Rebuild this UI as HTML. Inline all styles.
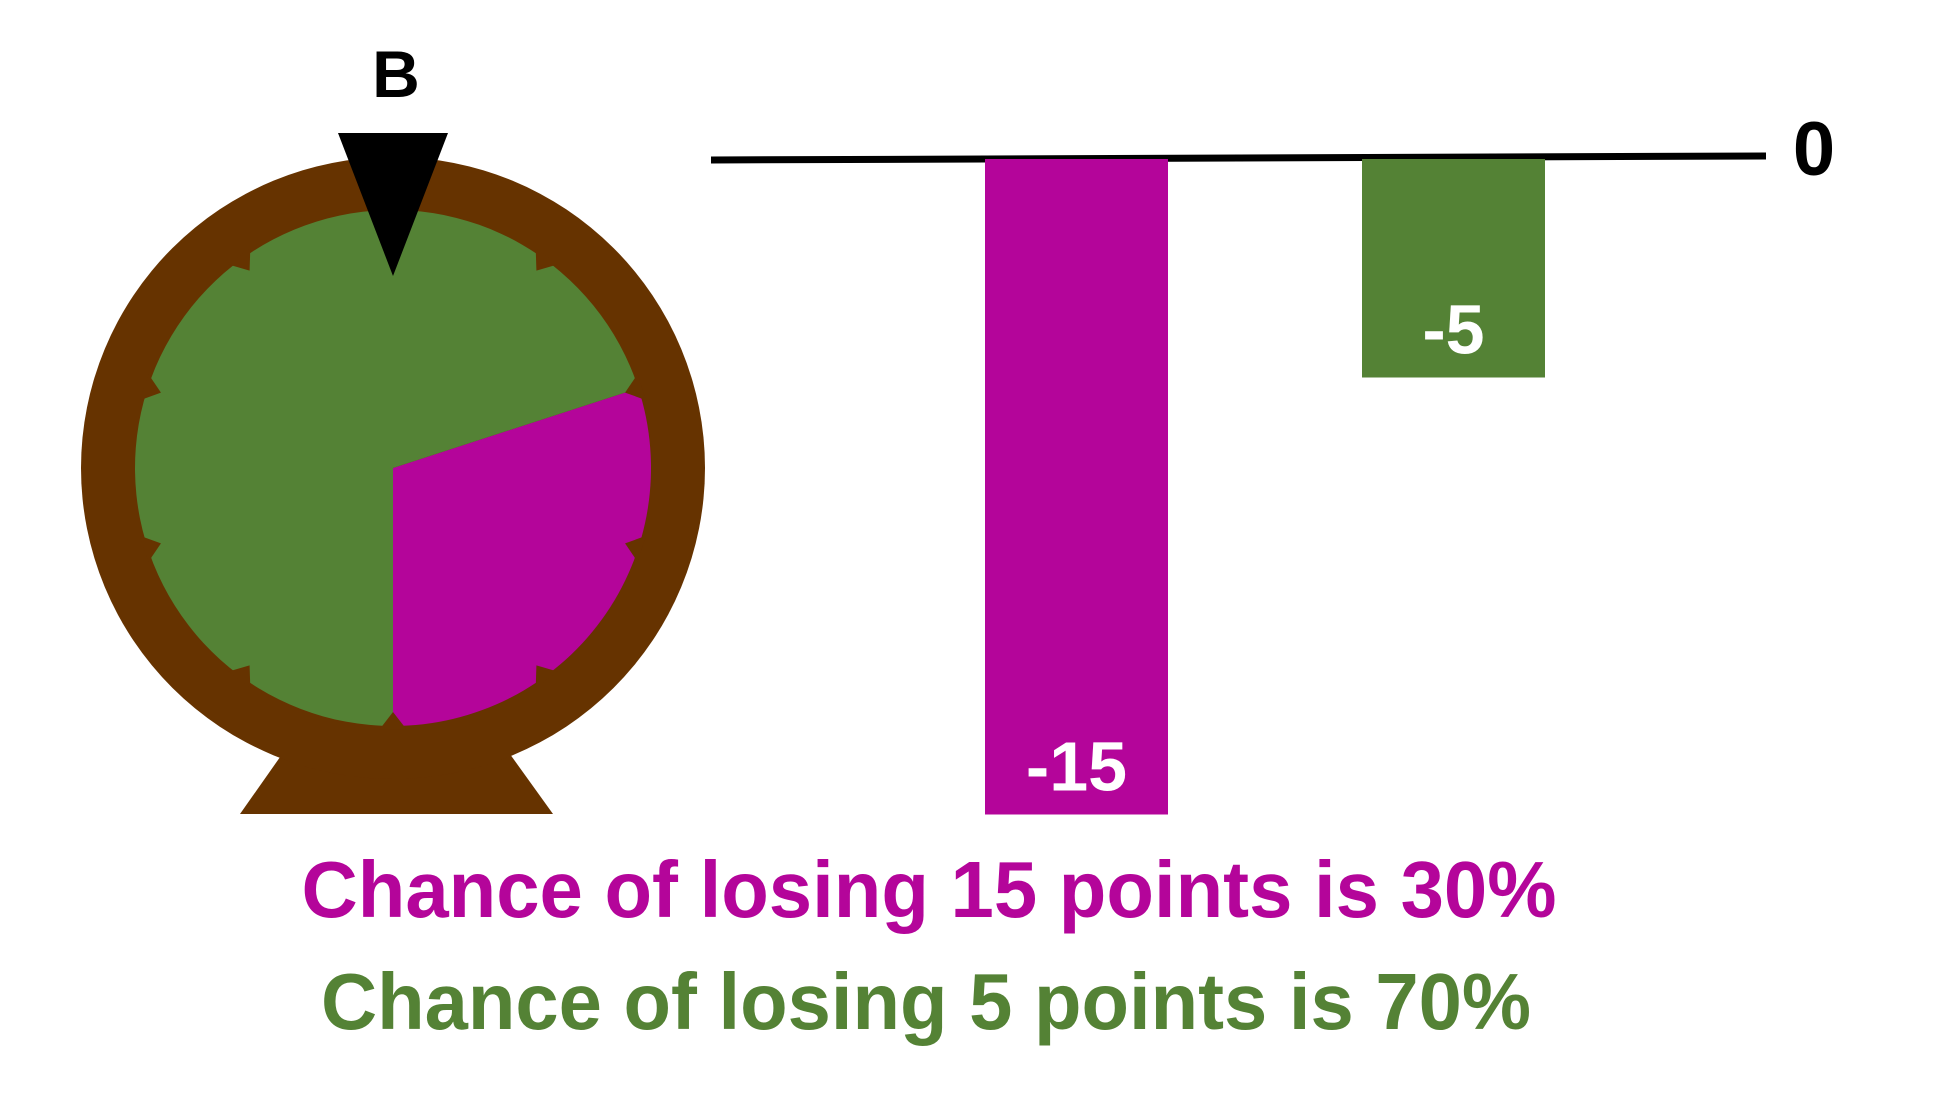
<!DOCTYPE html>
<html><head><meta charset="utf-8"><style>
html,body{margin:0;padding:0;background:#fff;}
svg{display:block;font-family:"Liberation Sans",sans-serif;}
</style></head><body>
<svg id="chart" width="1948" height="1108" viewBox="0 0 1948 1108">
  <g id="wheel">
    <polygon points="285,750 507,750 553,814 240,814" fill="#663300"/>
    <ellipse cx="393" cy="468" rx="312" ry="311" fill="#663300"/>
    <g id="slices"></g>
    <g id="notches"></g>
    <polygon points="338,133 448,133 393,276" fill="#000"/>
    <text x="396" y="97" font-size="66" font-weight="bold" text-anchor="middle" fill="#000">B</text>
  </g>
  <line x1="711" y1="160" x2="1766" y2="156" stroke="#000" stroke-width="7"/>
  <text x="1814" y="175" font-size="76" font-weight="bold" text-anchor="middle" fill="#000">0</text>
  <g id="bars"></g>
  <text x="929" y="917" font-size="80" font-weight="bold" text-anchor="middle" textLength="1255" lengthAdjust="spacingAndGlyphs" fill="#b4059a">Chance of losing 15 points is 30%</text>
  <text x="926" y="1029" font-size="80" font-weight="bold" text-anchor="middle" textLength="1210" lengthAdjust="spacingAndGlyphs" fill="#548235">Chance of losing 5 points is 70%</text>
</svg>
<script>
const categories = ["lose-15", "lose-5"];
const values = [-15, -5];
const valueLabels = ["-15", "-5"];
const probabilities = [30, 70];
const colors = ["#b4059a", "#548235"];

const NS = "http://www.w3.org/2000/svg";
const y0 = 159, unit = 43.7;
function yScale(v){ return y0 - v * unit; }
const barX = [985, 1362], barW = 183;
const bars = document.getElementById("bars");
values.forEach((v, i) => {
  const r = document.createElementNS(NS, "rect");
  const ya = yScale(0), yb = yScale(v);
  r.setAttribute("x", barX[i]); r.setAttribute("y", Math.min(ya, yb));
  r.setAttribute("width", barW); r.setAttribute("height", Math.abs(yb - ya));
  r.setAttribute("fill", colors[i]);
  
  
  bars.appendChild(r);
  const t = document.createElementNS(NS, "text");
  t.setAttribute("x", barX[i] + barW / 2); t.setAttribute("y", yb - 24);
  t.setAttribute("font-size", "70"); t.setAttribute("font-weight", "bold");
  t.setAttribute("text-anchor", "middle"); t.setAttribute("fill", "#fff");
  t.textContent = valueLabels[i];
  
  
  bars.appendChild(t);
});

const cx = 393, cy = 468, R = 258;
const slices = document.getElementById("slices");
function pt(a, r){ const rad = a * Math.PI / 180; return [cx + r * Math.sin(rad), cy - r * Math.cos(rad)]; }
const magStart = 180 - probabilities[0] * 3.6;
const segs = [[magStart, 180, colors[0]], [180, magStart + 360, colors[1]]];
segs.forEach((s, i) => {
  const [a1, a2, c] = s;
  const p1 = pt(a1, R), p2 = pt(a2, R);
  const large = (a2 - a1) > 180 ? 1 : 0;
  const p = document.createElementNS(NS, "path");
  p.setAttribute("d", `M${cx},${cy} L${p1[0]},${p1[1]} A${R},${R} 0 ${large} 1 ${p2[0]},${p2[1]} Z`);
  p.setAttribute("fill", c);
  
  
  slices.appendChild(p);
});
const notches = document.getElementById("notches");
for (let k = 1; k < 10; k++) {
  const a = k * 36;
  const a1 = pt(a - 3, R + 4), a2 = pt(a + 3, R + 4), tip = pt(a, R - 14);
  const p = document.createElementNS(NS, "polygon");
  p.setAttribute("points", `${a1[0]},${a1[1]} ${tip[0]},${tip[1]} ${a2[0]},${a2[1]}`);
  p.setAttribute("fill", "#663300");
  
  
  notches.appendChild(p);
}
</script>
</body></html>
